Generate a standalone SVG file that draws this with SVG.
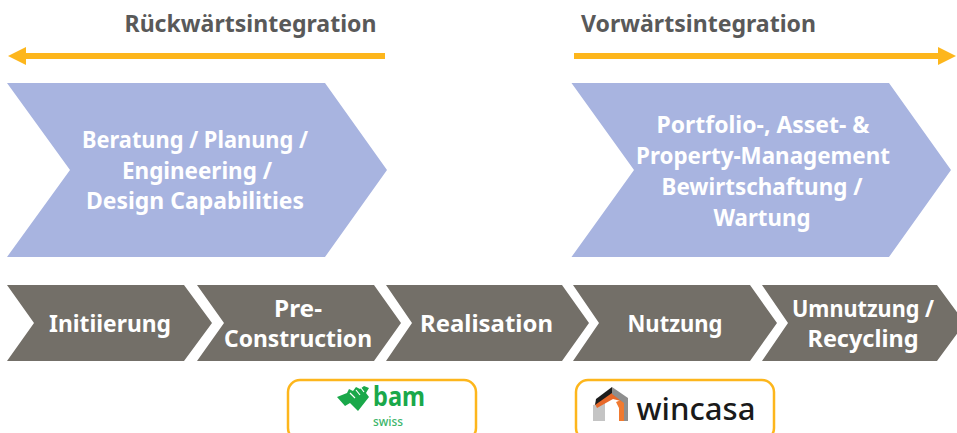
<svg xmlns="http://www.w3.org/2000/svg" width="957" height="433" viewBox="0 0 957 433">
<style>
text{font-family:"Noto Sans","Liberation Sans",sans-serif;font-weight:700;text-anchor:middle}
.big{fill:#a8b4e0}
.step{fill:#736f68}
.w{fill:#fff}
.t{font-size:23px}
.s{font-size:23px}
.h{font-size:23px;fill:#595959}
.arrow{stroke:#fdb61c;stroke-width:6;fill:none}
.head{fill:#fdb61c}
.box{fill:#fff;stroke:#fdb61c;stroke-width:2.5}
</style>
<rect width="957" height="433" fill="#fff"/>
<g id="connectors">
<line class="arrow" x1="24" y1="56" x2="385" y2="56"/>
<polygon class="head" points="8,56 26,47 26,65"/>
<line class="arrow" x1="574" y1="56" x2="940" y2="56"/>
<polygon class="head" points="956,56 938,47 938,65"/>
</g>
<g id="label-rueckwaerts"><text class="h" x="250.500" y="32" textLength="252" lengthAdjust="spacingAndGlyphs">Rückwärtsintegration</text></g>
<g id="label-vorwaerts"><text class="h" x="698.500" y="32" textLength="235" lengthAdjust="spacingAndGlyphs">Vorwärtsintegration</text></g>
<g id="beratung">
<polygon class="big" points="7,83 325,83 387,170 325,257 7,257 70,170"/>
<text class="w t" x="195" y="148" textLength="226" lengthAdjust="spacingAndGlyphs">Beratung / Planung /</text>
<text class="w t" x="197" y="179" textLength="150" lengthAdjust="spacingAndGlyphs">Engineering /</text>
<text class="w t" x="195" y="209" textLength="218" lengthAdjust="spacingAndGlyphs">Design Capabilities</text>
</g>
<g id="portfolio">
<polygon class="big" points="571.500,83 889,83 951,170 889,257 571.500,257 634,170"/>
<text class="w t" x="763" y="133" textLength="213" lengthAdjust="spacingAndGlyphs">Portfolio-, Asset- &amp;</text>
<text class="w t" x="763" y="164" textLength="254" lengthAdjust="spacingAndGlyphs">Property-Management</text>
<text class="w t" x="762" y="195" textLength="201" lengthAdjust="spacingAndGlyphs">Bewirtschaftung /</text>
<text class="w t" x="762" y="226" textLength="97" lengthAdjust="spacingAndGlyphs">Wartung</text>
</g>
<g id="initiierung">
<polygon class="step" points="7,285 184,285 212,323 184,361 7,361 34,323"/>
<text class="w s" x="110" y="332" textLength="122" lengthAdjust="spacingAndGlyphs">Initiierung</text>
</g>
<g id="preconstruction">
<polygon class="step" points="197,285 374,285 401,323 374,361 197,361 224,323"/>
<text class="w s" x="298" y="317" textLength="48" lengthAdjust="spacingAndGlyphs">Pre-</text>
<text class="w s" x="298" y="347" textLength="148" lengthAdjust="spacingAndGlyphs">Construction</text>
</g>
<g id="realisation">
<polygon class="step" points="386,285 562,285 589,323 562,361 386,361 412,323"/>
<text class="w s" x="486.500" y="332" textLength="133" lengthAdjust="spacingAndGlyphs">Realisation</text>
</g>
<g id="nutzung">
<polygon class="step" points="573,285 750,285 777,323 750,361 573,361 599,323"/>
<text class="w s" x="675" y="332" textLength="95" lengthAdjust="spacingAndGlyphs">Nutzung</text>
</g>
<g id="umnutzung">
<polygon class="step" points="762,285 937,285 965,323 937,361 762,361 788,323"/>
<text class="w s" x="863" y="317" textLength="142" lengthAdjust="spacingAndGlyphs">Umnutzung /</text>
<text class="w s" x="863" y="347" textLength="111" lengthAdjust="spacingAndGlyphs">Recycling</text>
</g>
<g id="bam">
<rect class="box" x="288" y="380" width="188" height="60" rx="12"/>
<path d="M337,397 L347,393 L349,389 L353,391 L356,387 L360,389 L364,386 L369,388 L366,393 L369,397 L358,411 L350,403 L345,406 Z" fill="#1aa84a"/>
<path d="M350,393 L355,398 M356,390 L360,395 M361,388 L364,392" stroke="#fff" stroke-width="1.200" fill="none"/>
<text x="399" y="406" font-size="26" fill="#1aa84a" textLength="52" lengthAdjust="spacingAndGlyphs">bam</text>
<text x="388" y="426" font-size="13" fill="#3bb56a" style="font-weight:500" textLength="30" lengthAdjust="spacingAndGlyphs">swiss</text>
</g>
<g id="wincasa">
<rect class="box" x="576" y="380" width="198" height="60" rx="12"/>
<polygon points="593,405 593,421 605,421 605,402" fill="#c4c4c4"/>
<polygon points="616,402 621,400 628,404 628,421 619,421 619,408" fill="#f07a30"/>
<polygon points="595,404 612,392 626,401 628,403 613,399 597,408" fill="#e8692a"/>
<polygon points="596,399 612,387 612,393 595,405" fill="#1c1c1c"/>
<polygon points="612,387 628,398 628,421 624,421 624,403 612,394" fill="#8e8e8e"/>
<text x="696" y="420" font-size="31" fill="#1a1a1a" style="font-weight:500" textLength="119" lengthAdjust="spacingAndGlyphs">wincasa</text>
</g>
</svg>
